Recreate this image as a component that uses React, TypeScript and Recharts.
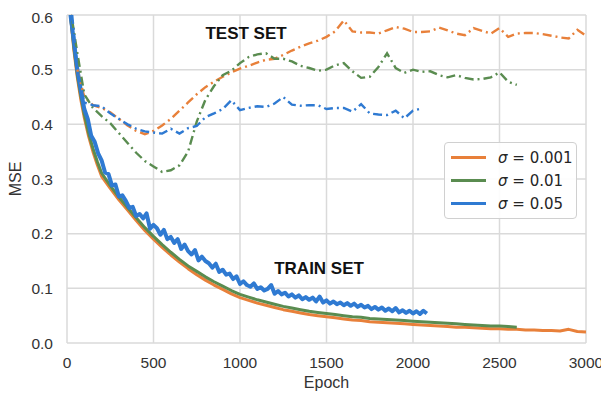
import { LineChart, Line, XAxis, YAxis, CartesianGrid, Legend, ReferenceDot } from "recharts";

const sigmaLabels = ["0.001", "0.01", "0.05"];
const colors = ["#E8803A", "#5A8C50", "#2F7AD2"];

const xTicks = [0, 500, 1000, 1500, 2000, 2500, 3000];
const yTicks = [0, 0.1, 0.2, 0.3, 0.4, 0.5, 0.6];

// test set curves (dash-dot)
const testEpochs = [
  30, 60, 100, 150, 200, 250, 300, 350, 400, 450, 500, 550, 600, 650, 700, 750, 800, 850, 900, 950,
  1000, 1050, 1100, 1150, 1200, 1250, 1300, 1350, 1400, 1450, 1500, 1550, 1600, 1650, 1700, 1750,
  1800, 1850, 1900, 1950, 2000, 2050, 2100, 2150, 2200, 2250, 2300, 2350, 2400, 2450, 2500, 2550,
  2600, 2650, 2700, 2750, 2800, 2850, 2900, 2950, 3000,
];
const testOrange = [
  null, 0.5, 0.45, 0.435, 0.43, 0.422, 0.41, 0.398, 0.388, 0.382, 0.388, 0.398, 0.41, 0.425, 0.44, 0.455,
  0.468, 0.478, 0.487, 0.495, 0.502, 0.507, 0.513, 0.518, 0.52, 0.527, 0.535, 0.542, 0.548, 0.553, 0.56,
  0.57, 0.59, 0.57, 0.568, 0.568, 0.566, 0.572, 0.578, 0.575, 0.569, 0.569, 0.57, 0.577, 0.572, 0.566,
  0.563, 0.576, 0.571, 0.566, 0.576, 0.56, 0.566, 0.567, 0.567, 0.565, 0.562, 0.559, 0.557, 0.573, 0.562,
];
const testGreen = [
  0.59, 0.53, 0.455, 0.43, 0.415, 0.402, 0.384, 0.366, 0.348, 0.333, 0.323, 0.313, 0.316, 0.325, 0.35,
  0.405, 0.445, 0.47, 0.49, 0.498, 0.512, 0.523, 0.528, 0.53, 0.52, 0.52, 0.515, 0.507, 0.503, 0.498,
  0.5, 0.508, 0.512, 0.497, 0.485, 0.487, 0.505, 0.53, 0.503, 0.494, 0.5, 0.496, 0.497, 0.49, 0.486,
  0.49, 0.485, 0.482, 0.483, 0.486, 0.495, 0.478, 0.472,
];
const testBlue = [
  0.6, 0.5, 0.44, 0.435, 0.433, 0.42, 0.41, 0.4, 0.392, 0.387, 0.385, 0.383, 0.392, 0.383, 0.393, 0.397,
  0.413, 0.42, 0.428, 0.444, 0.426, 0.43, 0.433, 0.432, 0.438, 0.45, 0.436, 0.434, 0.435, 0.435, 0.428,
  0.43, 0.43, 0.423, 0.437, 0.42, 0.418, 0.417, 0.425, 0.411, 0.425, 0.429,
];

// train set curves
const trainEpochs = [
  20, 40, 60, 80, 100, 125, 150, 175, 200, 250, 300, 350, 400, 450, 500, 550, 600, 650, 700, 750, 800,
  850, 900, 950, 1000, 1050, 1100, 1150, 1200, 1250, 1300, 1350, 1400, 1450, 1500, 1550, 1600, 1650,
  1700, 1750, 1800, 1850, 1900, 1950, 2000, 2050, 2100, 2150, 2200, 2250, 2300, 2350, 2400, 2450, 2500,
  2550, 2600, 2650, 2700, 2750, 2800, 2850, 2900, 2950, 3000,
];
const trainOrange = [
  0.6, 0.535, 0.485, 0.445, 0.412, 0.378, 0.35, 0.326, 0.305, 0.283, 0.262, 0.243, 0.224, 0.206, 0.19,
  0.175, 0.161, 0.148, 0.136, 0.125, 0.115, 0.106, 0.098, 0.09, 0.083, 0.078, 0.073, 0.069, 0.065, 0.061,
  0.058, 0.055, 0.052, 0.05, 0.048, 0.046, 0.044, 0.042, 0.041, 0.039, 0.038, 0.037, 0.036, 0.035, 0.034,
  0.033, 0.032, 0.031, 0.03, 0.029, 0.029, 0.028, 0.027, 0.026, 0.026, 0.025, 0.025, 0.024, 0.024, 0.023,
  0.023, 0.022, 0.025, 0.021, 0.02,
];
const trainGreen = [
  0.6, 0.54, 0.49, 0.452, 0.418, 0.384, 0.356, 0.332, 0.311, 0.288, 0.267, 0.248, 0.229, 0.211, 0.195,
  0.18, 0.166, 0.153, 0.141, 0.131, 0.121, 0.112, 0.104, 0.096, 0.089, 0.084, 0.079, 0.075, 0.071, 0.067,
  0.064, 0.061, 0.058, 0.056, 0.054, 0.052, 0.05, 0.048, 0.047, 0.045, 0.044, 0.043, 0.042, 0.041, 0.04,
  0.039, 0.038, 0.037, 0.036, 0.035, 0.034, 0.033, 0.032, 0.031, 0.031, 0.03, 0.029,
];
const trainBlueEpochs = [
  20, 40, 60, 80, 100, 120, 140, 160, 180, 200, 220, 240, 260, 280, 300, 320, 340, 360, 380, 400, 420,
  440, 460, 480, 500, 520, 540, 560, 580, 600, 620, 640, 660, 680, 700, 720, 740, 760, 780, 800, 820,
  840, 860, 880, 900, 920, 940, 960, 980, 1000, 1020, 1040, 1060, 1080, 1100, 1120, 1140, 1160, 1180,
  1200, 1220, 1240, 1260, 1280, 1300, 1320, 1340, 1360, 1380, 1400, 1420, 1440, 1460, 1480, 1500, 1520,
  1540, 1560, 1580, 1600, 1620, 1640, 1660, 1680, 1700, 1720, 1740, 1760, 1780, 1800, 1820, 1840, 1860,
  1880, 1900, 1920, 1940, 1960, 1980, 2000, 2020, 2040, 2060, 2080,
];
const trainBlue = [
  0.6, 0.552, 0.5, 0.462, 0.428, 0.41, 0.379, 0.368, 0.347, 0.334, 0.312, 0.309, 0.288, 0.29, 0.268,
  0.27, 0.26, 0.247, 0.249, 0.232, 0.236, 0.228, 0.237, 0.209, 0.216, 0.21, 0.198, 0.207, 0.19, 0.194,
  0.183, 0.19, 0.172, 0.18, 0.168, 0.162, 0.17, 0.151, 0.158, 0.15, 0.146, 0.138, 0.145, 0.13, 0.134,
  0.125, 0.127, 0.117, 0.122, 0.108, 0.113, 0.106, 0.103, 0.109, 0.099, 0.102, 0.096, 0.099, 0.106, 0.09,
  0.095, 0.089, 0.092, 0.085, 0.089, 0.083, 0.087, 0.08, 0.084, 0.079, 0.083, 0.076, 0.085, 0.074, 0.078,
  0.072, 0.076, 0.071, 0.074, 0.069, 0.073, 0.068, 0.072, 0.066, 0.07, 0.065, 0.068, 0.062, 0.066, 0.061,
  0.065, 0.059, 0.063, 0.058, 0.064, 0.056, 0.06, 0.055, 0.059, 0.054, 0.058, 0.053, 0.059, 0.054,
];

const pts = (xs: number[], ys: (number | null)[]) =>
  ys.map((y, i) => ({ epoch: xs[i], mse: y }));

const testSeries = [pts(testEpochs, testOrange), pts(testEpochs, testGreen), pts(testEpochs, testBlue)];
const trainSeries = [pts(trainEpochs, trainOrange), pts(trainEpochs, trainGreen), pts(trainBlueEpochs, trainBlue)];

const font = '"Liberation Sans", Arial, sans-serif';

function LegendBox() {
  return (
    <div
      style={{
        border: "1px solid #d0d0d0",
        borderRadius: 4,
        background: "rgba(255,255,255,0.9)",
        padding: "3px 6px",
        boxSizing: "border-box",
        width: 133,
      }}
    >
      {sigmaLabels.map((s, i) => (
        <div key={s} style={{ display: "flex", alignItems: "center", height: 23, whiteSpace: "nowrap" }}>
          <div style={{ width: 35, height: 3, background: colors[i], marginRight: 12, flexShrink: 0 }} />
          <span style={{ fontFamily: '"DejaVu Sans", sans-serif', fontSize: 15, color: "#262626" }}>
            <i>σ</i> = {s}
          </span>
        </div>
      ))}
    </div>
  );
}

export default function App() {
  return (
    <div style={{ width: 601, height: 385, fontFamily: font, background: "#fff" }}>
      <LineChart width={601} height={385} margin={{ top: 7, right: 23, bottom: 5, left: 0 }}>
        <CartesianGrid stroke="#dadada" strokeWidth={1.5} />
        <XAxis
          dataKey="epoch"
          type="number"
          domain={[0, 3000]}
          ticks={xTicks}
          axisLine={false}
          tickLine={false}
          tickMargin={8}
          height={45}
          tick={{ fill: "#333", fontSize: 15.5 }}
          label={{ value: "Epoch", position: "insideBottom", offset: 0, fill: "#333", fontSize: 16 }}
          allowDuplicatedCategory={false}
        />
        <YAxis
          type="number"
          domain={[0, 0.6]}
          ticks={yTicks}
          axisLine={false}
          tickLine={false}
          tickMargin={8}
          width={59}
          tick={{ fill: "#333", fontSize: 15.5 }}
          tickFormatter={(v: number) => v.toFixed(1)}
          label={{ value: "MSE", angle: -90, position: "center", dx: -22, fill: "#333", fontSize: 16 }}
        />
        {trainSeries.map((d, i) => (
          <Line
            key={"train" + i}
            data={d}
            dataKey="mse"
            type="linear"
            stroke={colors[i]}
            strokeWidth={i === 2 ? 4 : 3}
            strokeLinejoin="round"
            dot={false}
            isAnimationActive={false}
          />
        ))}
        {testSeries.map((d, i) => (
          <Line
            key={"test" + i}
            data={d}
            dataKey="mse"
            type="linear"
            stroke={colors[i]}
            strokeWidth={2.4}
            strokeDasharray="9 4 2 4"
            dot={false}
            isAnimationActive={false}
          />
        ))}
        <ReferenceDot
          x={1035}
          y={0.567}
          r={0}
          label={{ value: "TEST SET", position: "center", fill: "#111", fontSize: 17, fontWeight: 700 }}
        />
        <ReferenceDot
          x={1457}
          y={0.137}
          r={0}
          label={{ value: "TRAIN SET", position: "center", fill: "#111", fontSize: 17, fontWeight: 700 }}
        />
        <Legend
          layout="vertical"
          align="center"
          verticalAlign="middle"
          content={() => <LegendBox />}
          wrapperStyle={{ left: 436, top: 134, width: 133 }}
        />
      </LineChart>
    </div>
  );
}
